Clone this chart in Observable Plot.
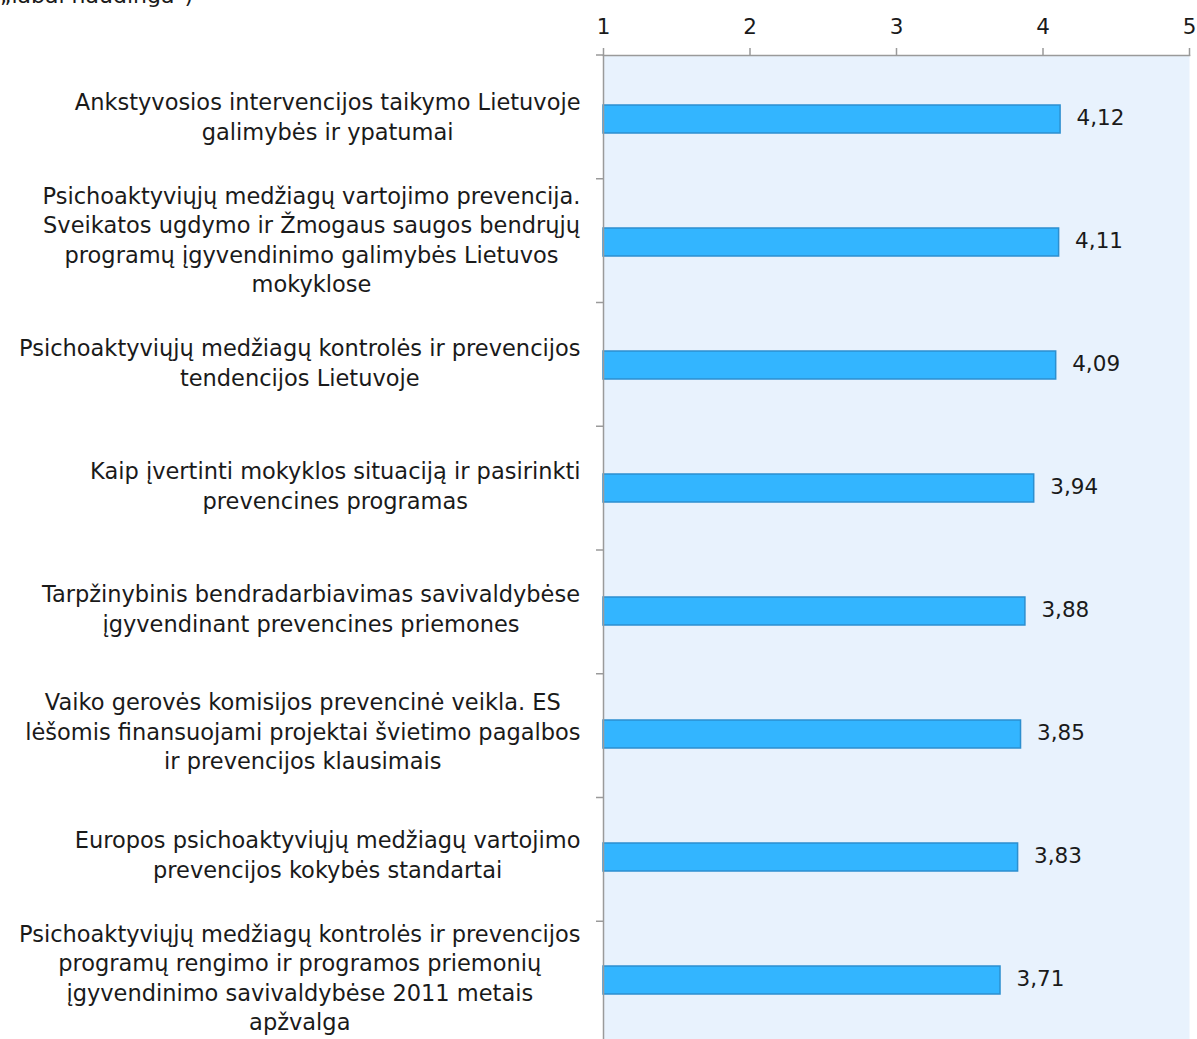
<!DOCTYPE html>
<html><head><meta charset="utf-8">
<script src="https://cdn.jsdelivr.net/npm/d3@7"></script>
<script src="https://cdn.jsdelivr.net/npm/@observablehq/plot@0.6"></script>
<style>
body{margin:0;background:#fff;overflow:hidden;font-family:"DejaVu Sans";}
#wrap{position:relative;width:1197px;height:1039px;overflow:hidden;}
#top{position:absolute;left:0;top:-17px;font-size:22px;color:#1a1a1a;white-space:nowrap;}
#chart{position:absolute;left:0;top:0;}
</style></head><body>
<div id="wrap"><div id="top">„labai naudinga")</div><div id="chart"></div></div>
<script>
const topics = [
  "Ankstyvosios intervencijos taikymo Lietuvoje\ngalimybės ir ypatumai",
  "Psichoaktyviųjų medžiagų vartojimo prevencija.\nSveikatos ugdymo ir Žmogaus saugos bendrųjų\nprogramų įgyvendinimo galimybės Lietuvos\nmokyklose",
  "Psichoaktyviųjų medžiagų kontrolės ir prevencijos\ntendencijos Lietuvoje",
  "Kaip įvertinti mokyklos situaciją ir pasirinkti\nprevencines programas",
  "Tarpžinybinis bendradarbiavimas savivaldybėse\nįgyvendinant prevencines priemones",
  "Vaiko gerovės komisijos prevencinė veikla. ES\nlėšomis finansuojami projektai švietimo pagalbos\nir prevencijos klausimais",
  "Europos psichoaktyviųjų medžiagų vartojimo\nprevencijos kokybės standartai",
  "Psichoaktyviųjų medžiagų kontrolės ir prevencijos\nprogramų rengimo ir programos priemonių\nįgyvendinimo savivaldybėse 2011 metais\napžvalga"
];
const scores = [4.12, 4.11, 4.09, 3.94, 3.88, 3.85, 3.83, 3.71];
const tickValues = [1, 2, 3, 4, 5];

const data = topics.map((t, i) => ({topic: t, score: scores[i]}));
const fmt = v => v.toFixed(2).replace(".", ",");
const FONT = "DejaVu Sans";

function boundaryTicks(index, scales, values, dims) {
  const n = topics.length;
  const step = (dims.height - dims.marginTop - dims.marginBottom) / n;
  const x0 = scales.x(tickValues[0]);
  const g = d3.create("svg:g").attr("stroke", "#9a9a9a").attr("stroke-width", 1.5);
  for (let i = 0; i <= n; i++) {
    const y = dims.marginTop + i * step;
    g.append("line").attr("x1", x0 - 7).attr("x2", x0).attr("y1", y).attr("y2", y);
  }
  return g.node();
}

const chart = Plot.plot({
  width: 1197, height: 1045,
  marginTop: 55, marginLeft: 603, marginRight: 8, marginBottom: 0,
  style: {fontFamily: FONT, fontSize: "22px", color: "#1a1a1a", background: "transparent"},
  x: {domain: [1, 5], axis: null, label: null},
  y: {domain: topics, paddingInner: 0.77, paddingOuter: 0.385, axis: null},
  marks: [
    Plot.frame({fill: "#E8F2FD", stroke: null}),
    Plot.barX(data, {x1: tickValues[0], x2: "score", y: "topic", fill: "#33B5FF", stroke: "#2C8FCF", strokeWidth: 1.5}),
    Plot.text(data, {x: "score", y: "topic", text: d => fmt(d.score), textAnchor: "start", dx: 16, dy: -1, fontSize: 21.5, fill: "#1a1a1a"}),
    Plot.frame({anchor: "top", stroke: "#9a9a9a", strokeWidth: 1.5}),
    Plot.ruleX([tickValues[0]], {stroke: "#9a9a9a", strokeWidth: 1.5}),
    Plot.axisX({anchor: "top", label: null, ticks: tickValues, tickFormat: "d", tickSize: 8, tickPadding: 14, stroke: "#9a9a9a", strokeWidth: 1.5, fontSize: 21.5, fill: "#1a1a1a"}),
    boundaryTicks,
    Plot.text(topics, {y: d => d, text: d => d, frameAnchor: "left", dx: -23, dy: -4, textAnchor: "end", lineAnchor: "middle", lineHeight: 1.31, fontSize: 22.5, fill: "#1a1a1a"})
  ]
});
document.getElementById("chart").appendChild(chart);

// center each multi-line label within its own box, right edge kept in place
const flat = new Set(topics.map(t => t.replace(/\n/g, "")));
chart.querySelectorAll("text").forEach(t => {
  if (!flat.has(t.textContent)) return;
  const w = t.getBBox().width;
  t.setAttribute("text-anchor", "middle");
  t.style.textAnchor = "middle";
  const tr = t.getAttribute("transform") || "";
  t.setAttribute("transform", tr + ` translate(${-w / 2},0)`);
});
</script>
</body></html>
